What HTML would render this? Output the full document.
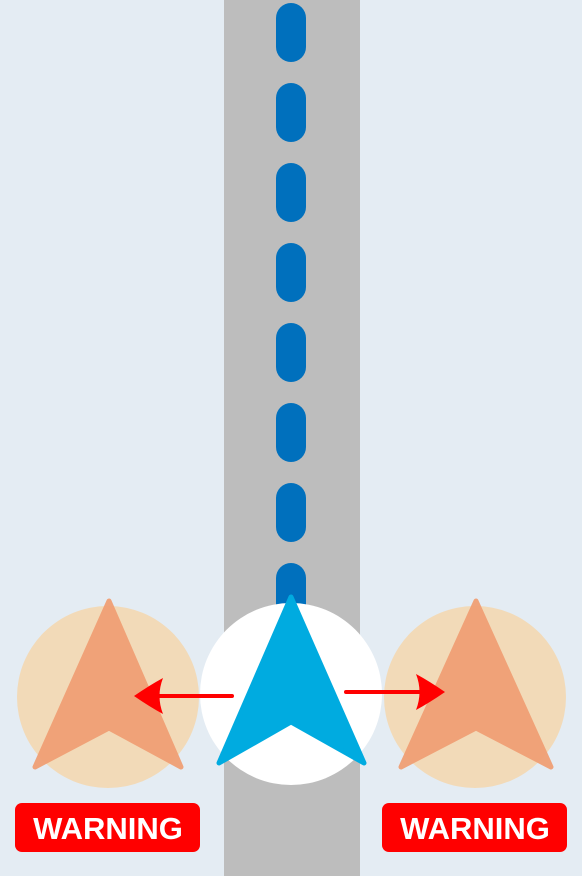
<!DOCTYPE html>
<html><head><meta charset="utf-8"><style>
html,body{margin:0;padding:0;background:#e4ecf3;}
svg{display:block}
</style></head><body>
<svg width="582" height="876" viewBox="0 0 582 876">
<rect x="0" y="0" width="582" height="876" fill="#e4ecf3"/>
<rect x="224" y="0" width="136" height="876" fill="#bdbdbd"/>
<g fill="#0070bd">
<rect x="276" y="3" width="30" height="59" rx="15"/>
<rect x="276" y="83" width="30" height="59" rx="15"/>
<rect x="276" y="163" width="30" height="59" rx="15"/>
<rect x="276" y="243" width="30" height="59" rx="15"/>
<rect x="276" y="323" width="30" height="59" rx="15"/>
<rect x="276" y="403" width="30" height="59" rx="15"/>
<rect x="276" y="483" width="30" height="59" rx="15"/>
<rect x="276" y="563" width="30" height="59" rx="15"/>
</g>
<circle cx="108" cy="697" r="91" fill="#f2dab8"/>
<circle cx="475" cy="697" r="91" fill="#f2dab8"/>
<polygon points="109,601 35,767 109,728 181,767" fill="#f0a075" opacity="0.95" stroke="#f0a075" stroke-width="5" stroke-linejoin="round"/>
<polygon points="476,601 401,767 476,728 551,767" fill="#f0a075" opacity="0.95" stroke="#f0a075" stroke-width="5" stroke-linejoin="round"/>
<circle cx="291" cy="694" r="91" fill="#ffffff"/>
<polygon points="291,597 219,763 291,722 364,763" fill="#00abe0" stroke="#00abe0" stroke-width="5" stroke-linejoin="round"/>
<g>
<line x1="232" y1="696" x2="145" y2="696" stroke="#f00" stroke-width="4" stroke-linecap="round"/>
<path d="M134,696 Q150,685 163,678 Q156,696 163,714 Q150,707 134,696Z" fill="#f00"/>
</g>
<g>
<line x1="346" y1="692" x2="432" y2="692" stroke="#f00" stroke-width="4" stroke-linecap="round"/>
<path d="M445,692 Q429,681 416,674 Q423,692 416,710 Q429,703 445,692Z" fill="#f00"/>
</g>
<g>
<rect x="15" y="803" width="185" height="49" rx="7" fill="#ff0000"/>
<text x="108" y="839" text-anchor="middle" font-family="Liberation Sans, sans-serif" font-weight="bold" font-size="31" fill="#fff">WARNING</text>
</g>
<g>
<rect x="382" y="803" width="185" height="49" rx="7" fill="#ff0000"/>
<text x="475" y="839" text-anchor="middle" font-family="Liberation Sans, sans-serif" font-weight="bold" font-size="31" fill="#fff">WARNING</text>
</g>
</svg>
</body></html>
